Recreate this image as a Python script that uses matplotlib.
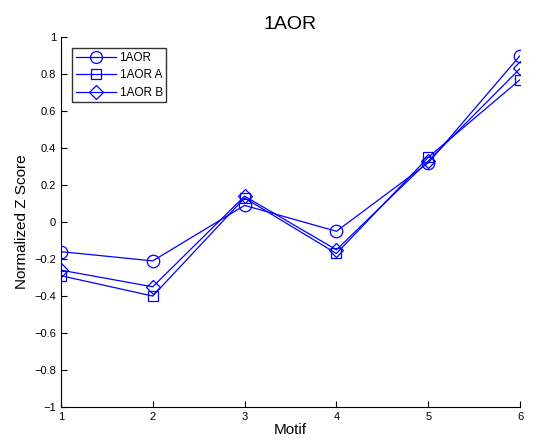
import matplotlib
matplotlib.use("Agg")
import matplotlib.pyplot as plt

plt.rcParams['font.family'] = ['Liberation Sans', 'DejaVu Sans']

motif = [1, 2, 3, 4, 5, 6]
s_1aor = [-0.16, -0.21, 0.09, -0.05, 0.32, 0.90]
s_1aor_a = [-0.29, -0.40, 0.13, -0.17, 0.35, 0.77]
s_1aor_b = [-0.26, -0.35, 0.14, -0.15, 0.33, 0.83]
names = ['1AOR', '1AOR A', '1AOR B']
yticks = [-1, -0.8, -0.6, -0.4, -0.2, 0, 0.2, 0.4, 0.6, 0.8, 1]

fig = plt.figure(figsize=(5.34, 4.41), dpi=100)
ax = fig.add_axes([0.114, 0.077, 0.860, 0.839])
blue = '#0000ff'
ax.plot(motif, s_1aor, color=blue, marker='o', ms=9, mfc='none', mec=blue, mew=0.9, lw=0.9, label=names[0])
ax.plot(motif, s_1aor_a, color=blue, marker='s', ms=7.5, mfc='none', mec=blue, mew=0.9, lw=0.9, label=names[1])
ax.plot(motif, s_1aor_b, color=blue, marker='D', ms=7.5, mfc='none', mec=blue, mew=0.9, lw=0.9, label=names[2])

ax.set_xlim(1, 6)
ax.set_ylim(-1, 1)
ax.set_xticks(motif)
ax.set_yticks(yticks)
ax.set_yticklabels(['\u22121' if v == -1 else ('1' if v == 1 else ('0' if v == 0 else f'{v:.1f}'.replace('-', '\u2212'))) for v in yticks])
ax.tick_params(direction='in', labelsize=8, length=4)
ax.spines['top'].set_visible(False)
ax.spines['right'].set_visible(False)
ax.set_xlabel('Motif', fontsize=11, labelpad=1)
ax.set_ylabel('Normalized Z Score', fontsize=11)
ax.set_title('1AOR', fontsize=14)
leg = ax.legend(loc='upper left', bbox_to_anchor=(0.012, 0.985), fontsize=8.5, frameon=True, fancybox=False,
                edgecolor='black', borderpad=0.3, labelspacing=0.45, handlelength=3.4, handletextpad=0.3,
                markerscale=0.95)
leg.get_frame().set_linewidth(1.0)
fig.savefig('out.png', dpi=100)
